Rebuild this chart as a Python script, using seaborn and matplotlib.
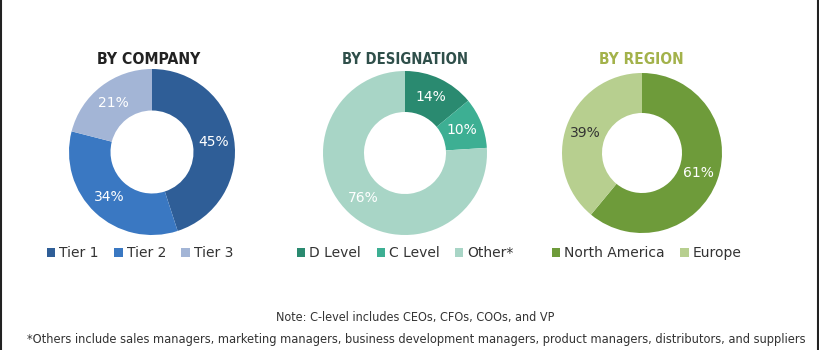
import matplotlib
matplotlib.use("Agg")
import matplotlib.pyplot as plt
import seaborn as sns
from matplotlib.patches import Patch
from matplotlib.lines import Line2D

sns.set_theme(style="white")
plt.rcParams['font.family'] = ['DejaVu Sans']

# ---- data ----
company_labels = ["Tier 1", "Tier 2", "Tier 3"]
company_values = [45, 34, 21]
company_colors = ["#2F5E97", "#3A78C2", "#A3B5D6"]

designation_labels = ["D Level", "C Level", "Other*"]
designation_values = [14, 10, 76]
designation_colors = ["#2A8A70", "#3DAF93", "#A8D5C6"]

region_labels = ["North America", "Europe"]
region_values = [61, 39]
region_colors = ["#6E9B3A", "#B7CF8F"]

titles = ["BY COMPANY", "BY DESIGNATION", "BY REGION"]
title_colors = ["#222222", "#2F4F4A", "#A3B24B"]

note1 = "Note: C-level includes CEOs, CFOs, COOs, and VP"
note2 = ("*Others include sales managers, marketing managers, business development managers, "
         "product managers, distributors, and suppliers")

W, H = 820, 350
fig = plt.figure(figsize=(W / 100, H / 100), dpi=100)
fig.patch.set_facecolor("white")
renderer = fig.canvas.get_renderer()

def px_axes(cx, cy, r):
    return fig.add_axes([(cx - r) / W, 1 - (cy + r) / H, 2 * r / W, 2 * r / H])

def fit_text(x, y, s, width_px, size, **kw):
    t = fig.text(x / W, 1 - y / H, s, ha="center", va="center", fontsize=size, **kw)
    w = t.get_window_extent(renderer=renderer).width
    if w > 0:
        t.set_fontsize(size * width_px / w)
    return t

panels = [
    dict(cx=152, cy=152, r=83, labels=company_labels, values=company_values,
         colors=company_colors, pct_colors=["white", "white", "white"],
         legend_x=47, title_x=149, title_w=104),
    dict(cx=405, cy=153, r=82, labels=designation_labels, values=designation_values,
         colors=designation_colors, pct_colors=["white", "white", "white"],
         legend_x=297, title_x=405, title_w=126),
    dict(cx=642, cy=153, r=80, labels=region_labels, values=region_values,
         colors=region_colors, pct_colors=["white", "#333333"],
         legend_x=552, title_x=641, title_w=85),
]

for i, p in enumerate(panels):
    ax = px_axes(p["cx"], p["cy"], p["r"])
    wedges, _, autotexts = ax.pie(
        p["values"], colors=p["colors"], startangle=90, counterclock=False,
        autopct=lambda v: f"{v:.0f}%", pctdistance=0.75,
        wedgeprops=dict(width=0.5, edgecolor="none"),
        textprops=dict(fontsize=10, color="white"))
    for t, c in zip(autotexts, p["pct_colors"]):
        t.set_color(c)
    ax.set_xlim(-1, 1)
    ax.set_ylim(-1, 1)
    ax.set_aspect("equal")
    ax.axis("off")

    fit_text(p["title_x"], 59, titles[i], p["title_w"], 12, fontweight="bold",
             fontstretch="condensed", color=title_colors[i], family=['DejaVu Sans'])

    handles = [Patch(facecolor=c, edgecolor="none") for c in p["colors"]]
    fig.legend(handles, p["labels"], loc="center left",
               bbox_to_anchor=(p["legend_x"] / W, 1 - 253 / H), ncol=len(handles),
               frameon=False, fontsize=10, handlelength=0.6, handleheight=0.6,
               handletextpad=0.3, columnspacing=1.1, borderpad=0, borderaxespad=0,
               labelcolor="#333333")

fit_text(415, 318, note1, 278, 9, color="#333333", fontstretch="condensed",
         family=['DejaVu Sans'])
fit_text(416, 340, note2, 782, 9, color="#333333", fontstretch="condensed",
         family=['DejaVu Sans'])

# border lines at left and right edges
fig.add_artist(Line2D([1 / W, 1 / W], [0, 1], color="#222222", lw=1.5, transform=fig.transFigure))
fig.add_artist(Line2D([818.5 / W, 818.5 / W], [0, 1], color="#222222", lw=1.5, transform=fig.transFigure))

fig.savefig("out.png", dpi=100, facecolor="white")
